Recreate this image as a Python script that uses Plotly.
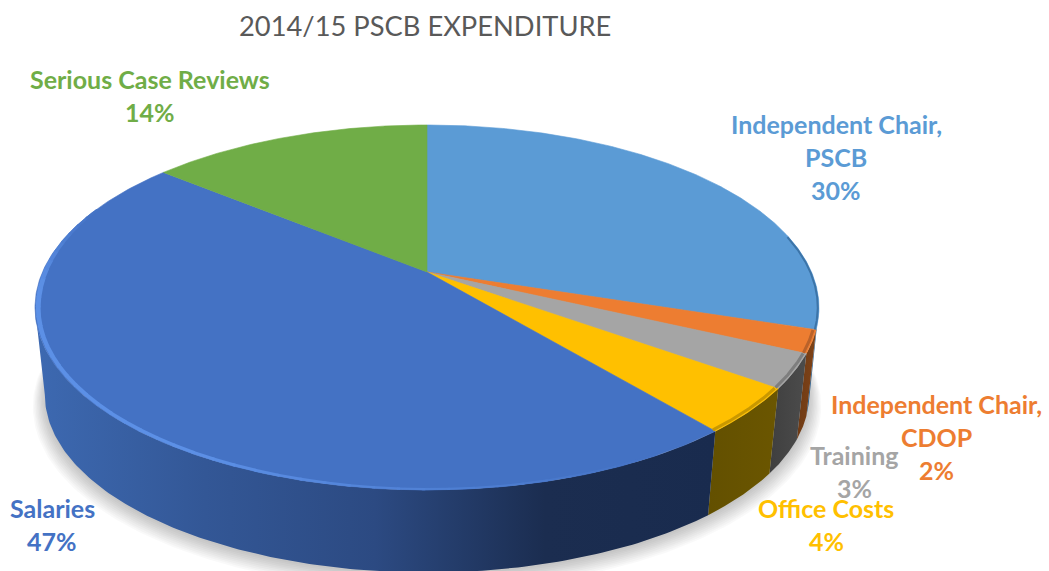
import numpy as np
import plotly.graph_objects as go

# ---- data ----
title_text = "2014/15 PSCB EXPENDITURE"
categories = ["Independent Chair,<br>PSCB", "Independent Chair,<br>CDOP", "Training",
              "Office Costs", "Salaries", "Serious Case Reviews"]
values = [30, 2, 3, 4, 47, 14]

# ---- styles ----
top_colors = ["#5B9BD5", "#ED7D31", "#A5A5A5", "#FFC000", "#4472C4", "#70AD47"]
text_colors = ["#5B9BD5", "#ED7D31", "#A5A5A5", "#FFC000", "#4472C4", "#70AD47"]
side_grad = [
    ["#2A5D8C", "#2F6596"],
    ["#6E3A14", "#7F4318"],
    ["#3F3F3F", "#4C4C4C"],
    ["#635000", "#6B5600"],
    ["#3D69B1", "#335796", "#2C4A82", "#1B2D50", "#192B4E"],
    ["#3D6B27", "#3D6B27"],
]
rim_colors = ["#3C74A8", "#B9622A", "#7E7E7E", "#C99800", None, None]
label_pos = [(836, 124), (936, 404), (854, 455), (826, 508), (52, 508), (150, 79)]
label_size = 25
line_gap = 33

# ---- projection of the pie disc ----
CX, CY, A, B, K = 427.0, 272.0, 384.5, 175.6, 0.1945
SIDE_SCALE, SIDE_DY = 0.975, 88.0


def proj(deg, r=1.0, s=1.0, dy=0.0):
    t = np.radians(deg)
    u, v = r * np.sin(t), r * np.cos(t)
    d = 1 + K * v
    return CX + s * A * u / d, CY + dy - s * B * v / d


tangent_r = np.degrees(np.arccos(-K))
tangent_l = 360 - tangent_r

fig = go.Figure()


def poly(x, y, color=None, grad=None):
    kw = dict(x=list(x), y=list(y), mode="lines", fill="toself", hoverinfo="skip",
              showlegend=False, line=dict(width=0))
    if grad:
        n = len(grad) - 1
        kw["fillgradient"] = dict(type="horizontal",
                                  colorscale=[[i / n, c] for i, c in enumerate(grad)])
    else:
        kw["fillcolor"] = color
        kw["line"] = dict(width=0.6, color=color)
    fig.add_trace(go.Scatter(**kw))


# soft shadow below the disc
th = np.linspace(0, 360, 361)
for i in range(10):
    g = 1.0 + 0.0035 * i
    sx, sy = proj(th, 1.0, SIDE_SCALE * g, SIDE_DY + 2 + 1.0 * i)
    fig.add_trace(go.Scatter(x=sx, y=sy, mode="lines", fill="toself", hoverinfo="skip",
                             showlegend=False, line=dict(width=0),
                             fillcolor="rgba(0,0,0,0.022)"))

# slice angles
edges = np.cumsum([0] + values) * 3.6

# sides
for i in range(len(values)):
    a0 = max(edges[i], tangent_r)
    a1 = min(edges[i + 1], tangent_l)
    if a1 <= a0:
        continue
    t = np.linspace(a0, a1, 160)
    x0, y0 = proj(t)
    x1, y1 = proj(t[::-1], 1.0, SIDE_SCALE, SIDE_DY)
    poly(np.r_[x0, x1, x0[0]], np.r_[y0, y1, y0[0]], grad=side_grad[i])

# tops
for i in range(len(values)):
    t = np.linspace(edges[i], edges[i + 1], 240)
    x, y = proj(t)
    poly(np.r_[CX, x, CX], np.r_[CY, y, CY], color=top_colors[i])


# rim bevel
def rim(a0, a1, color, width, r=0.99):
    t = np.linspace(a0, a1, 200)
    x, y = proj(t, r)
    fig.add_trace(go.Scatter(x=x, y=y, mode="lines", hoverinfo="skip", showlegend=False,
                             line=dict(color=color, width=width)))


rim(78, edges[1], rim_colors[0], 2, 0.997)
rim(edges[1] + 0.2, edges[2], rim_colors[1], 3, 0.993)
rim(edges[2] + 0.2, edges[3], rim_colors[2], 3, 0.993)
rim(edges[3] + 0.2, edges[4], rim_colors[3], 3, 0.993)

# Salaries highlight, growing from the front to the left edge and fading on the back
light = np.array([0x5C, 0x90, 0xE6])
base = np.array([0x44, 0x72, 0xC4])
stops = np.linspace(150, 292, 48)
for a0, a1 in zip(stops[:-1], stops[1:]):
    m = (a0 + a1) / 2
    if m < 265:
        f = np.clip((m - 150) / 60, 0, 1)
        w = 2 + 3 * np.clip((m - 175) / 90, 0, 1)
    else:
        f = np.clip((292 - m) / 27, 0, 1)
        w = 5 - 3 * (m - 265) / 27
    c = base + (light - base) * f
    rim(a0, a1 + 0.4, f"rgb({c[0]:.0f},{c[1]:.0f},{c[2]:.0f})", w, 1 - w * 0.0016)

# labels
for i, name in enumerate(categories):
    lines = name.split("<br>") + [f"{values[i]}%"]
    lx, ly = label_pos[i]
    for j, txt in enumerate(lines):
        fig.add_annotation(x=lx, y=ly + j * line_gap, text=f"<b>{txt}</b>", showarrow=False,
                           xanchor="center", yanchor="middle",
                           font=dict(family="Lato", size=label_size, color=text_colors[i]))

fig.add_annotation(x=425, y=25, text=title_text, showarrow=False, xanchor="center", yanchor="middle",
                   font=dict(family="Lato", size=27.3, color="#595959"))

fig.update_layout(
    width=1049, height=571, margin=dict(l=0, r=0, t=0, b=0),
    paper_bgcolor="white", plot_bgcolor="white", showlegend=False,
    xaxis=dict(range=[0, 1049], visible=False, fixedrange=True),
    yaxis=dict(range=[571, 0], visible=False, fixedrange=True),
)
fig.write_html("out.html", config=dict(displayModeBar=False),
               post_script="document.body.style.margin='0';document.body.style.overflow='hidden';")
